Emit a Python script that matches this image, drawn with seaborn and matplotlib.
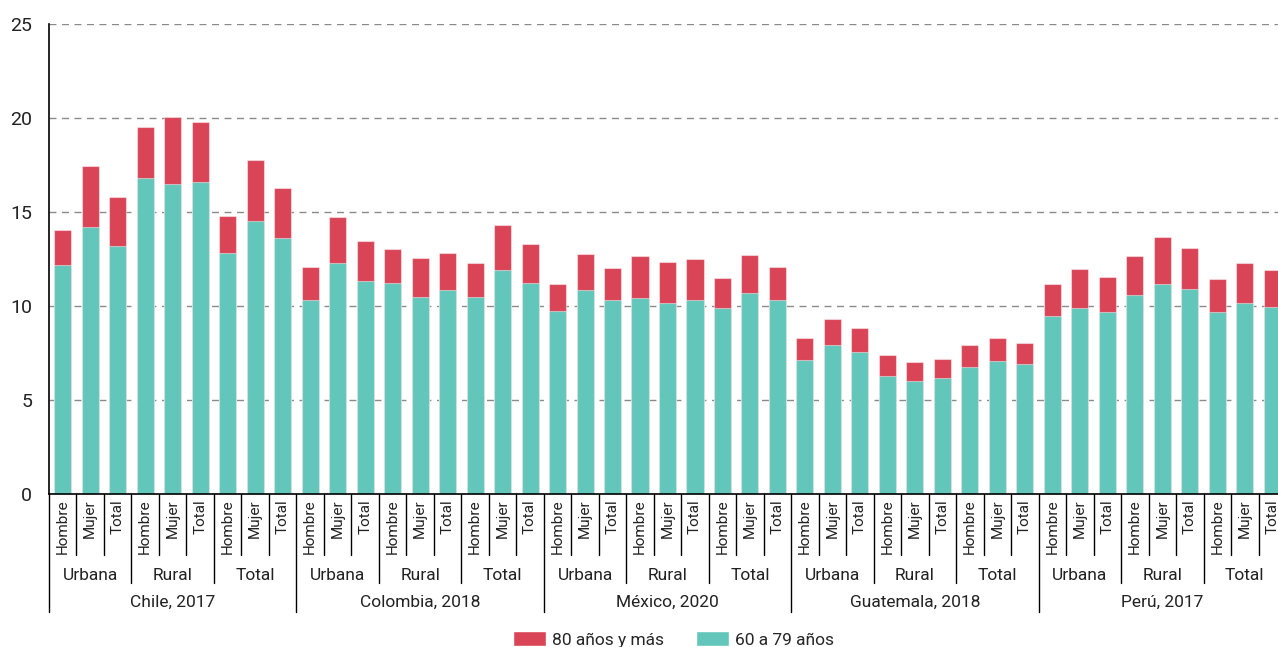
import matplotlib
matplotlib.use("Agg")
import matplotlib.pyplot as plt
from matplotlib import transforms
from matplotlib.patches import Patch
import pandas as pd
import seaborn as sns

countries = ["Chile, 2017", "Colombia, 2018", "México, 2020", "Guatemala, 2018", "Perú, 2017"]
areas = ["Urbana", "Rural", "Total"]
sexes = ["Hombre", "Mujer", "Total"]

# 60 a 79 años (lower segment), order: country > area > sex
age_60_79 = [
    12.2, 14.2, 13.2, 16.8, 16.5, 16.6, 12.8, 14.5, 13.6,      # Chile
    10.3, 12.3, 11.35, 11.2, 10.5, 10.85, 10.5, 11.9, 11.25,   # Colombia
    9.75, 10.85, 10.3, 10.45, 10.15, 10.3, 9.9, 10.7, 10.3,    # México
    7.15, 7.95, 7.55, 6.3, 6.0, 6.15, 6.75, 7.05, 6.9,         # Guatemala
    9.45, 9.9, 9.7, 10.6, 11.15, 10.9, 9.7, 10.15, 9.95,       # Perú
]
# 80 años y más (upper segment)
age_80_plus = [
    1.85, 3.25, 2.6, 2.7, 3.55, 3.2, 2.0, 3.25, 2.7,
    1.75, 2.45, 2.1, 1.85, 2.05, 1.95, 1.8, 2.4, 2.05,
    1.4, 1.9, 1.7, 2.2, 2.2, 2.2, 1.6, 2.0, 1.8,
    1.15, 1.35, 1.3, 1.1, 1.0, 1.05, 1.15, 1.25, 1.15,
    1.7, 2.05, 1.85, 2.05, 2.5, 2.2, 1.75, 2.15, 1.95,
]

teal = "#63C6BA"
red = "#D94556"

sns.set_style("white")
plt.rcParams["font.family"] = ["Roboto", "DejaVu Sans"]

rows = []
i = 0
for c in countries:
    for a in areas:
        for s in sexes:
            rows.append({"pos": i, "country": c, "area": a, "sex": s,
                         "low": age_60_79[i], "total": age_60_79[i] + age_80_plus[i]})
            i += 1
df = pd.DataFrame(rows)
n = len(df)

fig = plt.figure(figsize=(12.78, 6.47), dpi=100)
ax = fig.add_axes([49 / 1278, 153 / 647, (1286 - 49) / 1278, 470 / 647])

ax.set_axisbelow(True)
ax.yaxis.grid(True, linestyle=(0, (5, 4)), color="#8a8a8a", linewidth=1)

sns.barplot(data=df, x="pos", y="total", color=red, saturation=1, width=0.62,
            edgecolor=(1, 1, 1, 0.45), linewidth=0.8, ax=ax)
sns.barplot(data=df, x="pos", y="low", color=teal, saturation=1, width=0.62,
            edgecolor=(1, 1, 1, 0.45), linewidth=0.8, ax=ax)

ax.set_xlim(-0.5, n - 0.5)
ax.set_ylim(0, 25)
ax.set_yticks(range(0, 26, 5))
ax.tick_params(axis="y", length=7, width=1, labelsize=14, pad=5, color="black",
               labelcolor="#222222")
ax.set_xticks([])
ax.set_xlabel("")
ax.set_ylabel("")
for sp in ["top", "right"]:
    ax.spines[sp].set_visible(False)
for sp in ["left", "bottom"]:
    ax.spines[sp].set_color("black")
    ax.spines[sp].set_linewidth(1.2)


def below(px):
    return -px / 470


trans = transforms.blended_transform_factory(ax.transData, ax.transAxes)

# sex labels
for _, r in df.iterrows():
    ax.text(r["pos"], below(5), r["sex"], rotation=90, ha="center", va="top",
            fontsize=11, color="#222222", transform=trans, clip_on=False)

# separators
for k in range(n + 1):
    if k % 9 == 0:
        depth = 118
    elif k % 3 == 0:
        depth = 89
    else:
        depth = 61
    ax.plot([k - 0.5, k - 0.5], [0, below(depth)], color="black", linewidth=1,
            transform=trans, clip_on=False)

# area and country labels
for j in range(n // 3):
    ax.text(j * 3 + 1, below(82), areas[j % 3], ha="center", va="center",
            fontsize=12.5, color="#222222", transform=trans, clip_on=False)
for j, c in enumerate(countries):
    ax.text(j * 9 + 4, below(108), c, ha="center", va="center",
            fontsize=12.5, color="#222222", transform=trans, clip_on=False)

handles = [Patch(facecolor=red, label="80 años y más"),
           Patch(facecolor=teal, label="60 a 79 años")]
fig.legend(handles=handles, loc="center", bbox_to_anchor=(0.527, 0.012), ncol=2,
           frameon=False, fontsize=12.5, handlelength=1.9, handleheight=1.0,
           handletextpad=0.3, columnspacing=1.9)

fig.savefig("out.png", dpi=100)
